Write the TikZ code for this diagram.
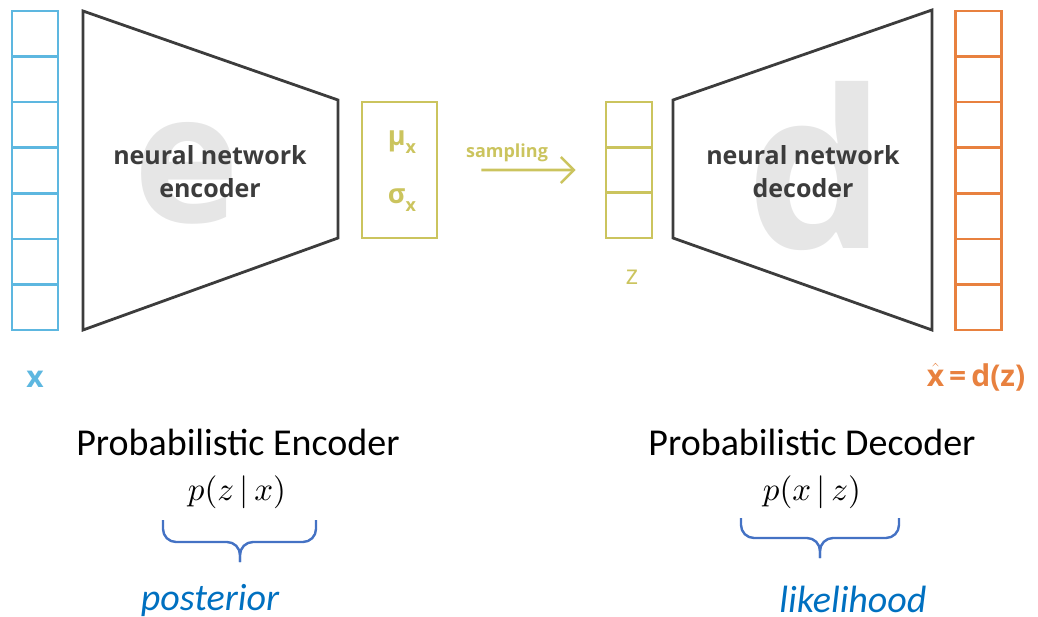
\documentclass[tikz,border=0pt]{standalone}
\usepackage{fontspec}
\setmainfont{Carlito}
\newfontfamily\osans{Open Sans}
\usepackage{xcolor}
\usetikzlibrary{arrows.meta,positioning}
\definecolor{inblue}{HTML}{5DB7E0}
\definecolor{latyel}{HTML}{CBC45E}
\definecolor{outorg}{HTML}{E8813F}
\definecolor{netgray}{HTML}{3C3C3C}
\definecolor{markgray}{HTML}{E6E6E6}
\definecolor{brcblue}{HTML}{4472C4}
\definecolor{capblue}{HTML}{0070C0}
\tikzset{
  incell/.style={draw=inblue, line width=2.6pt, minimum width=46pt, minimum height=45.57pt, inner sep=0pt},
  outcell/.style={draw=outorg, line width=2.6pt, minimum width=46pt, minimum height=45.57pt, inner sep=0pt},
  zcell/.style={draw=latyel, line width=2.6pt, minimum width=46pt, minimum height=45.33pt, inner sep=0pt},
  latbox/.style={draw=latyel, line width=2.6pt, minimum width=75pt, minimum height=136pt, inner sep=0pt},
  netline/.style={draw=netgray, line width=2.8pt, line join=miter},
  netlbl/.style={text=netgray, align=center, font={\osans\bfseries\fontsize{25}{33}\selectfont}},
  bigmark/.style={text=markgray, inner sep=0pt, font={\osans\bfseries\fontsize{220}{220}\selectfont}},
  latlbl/.style={text=latyel, inner sep=0pt, font={\osans\bfseries\fontsize{27}{27}\selectfont}},
  sampl/.style={-{Straight Barb[length=13pt, width=26pt, line width=2.6pt]}, line width=2.6pt, latyel},
  vlbl/.style={inner sep=0pt, anchor=base, font={\osans\bfseries\fontsize{30}{30}\selectfont}},
  captxt/.style={inner sep=0pt, anchor=base, font={\fontsize{38}{42}\selectfont}},
  capmath/.style={inner sep=0pt, anchor=base},
  capital/.style={inner sep=0pt, anchor=base, text=capblue, font={\itshape\fontsize{38}{42}\selectfont}},
  brc/.style={draw=brcblue, line width=2.4pt, rounded corners=13pt},
}
\newcommand{\sbx}[1]{\raisebox{-8pt}{\fontsize{18}{18}\selectfont #1}}
\newcommand{\capm}[1]{\scalebox{3.3}{$#1$}}

\begin{document}
\begin{tikzpicture}[x=1pt, y=-1pt]
\useasboundingbox (0,0) rectangle (1038,616);
% watermarks
\node[bigmark, font={\osans\bfseries\fontsize{180}{180}\selectfont}] (emark) at (187,173) {e};
\node[bigmark] (dmark) at (816,166) {d};
% input and output vectors
\foreach \i in {0,...,6} {
  \node[incell] (x\i) at (35,{33.8+\i*45.57}) {};
  \node[outcell] (o\i) at (978.5,{33.8+\i*45.57}) {};
}
\node[vlbl, text=inblue] (xlbl) at (35,387) {x};
\node[vlbl, text=outorg] (olbl) at (976,386) {$\hat{\mbox{x}}$\,=\,d(z)};
% encoder / decoder
\draw[netline] (83,11) -- (338,100) -- (338,238) -- (83,330) -- cycle;
\draw[netline] (673,100) -- (932,10) -- (932,330) -- (673,238) -- cycle;
\node[netlbl] (enclbl) at (210,172) {neural network\\encoder};
\node[netlbl] (declbl) at (803,172) {neural network\\decoder};
% latent
\node[latbox] (musig) at (399.5,170) {};
\node[latlbl] (mu) at (402,142) {μ\sbx{x}};
\node[latlbl] (sig) at (402,200) {σ\sbx{x}};
\foreach \i in {0,1,2}
  \node[zcell] (z\i) at (629,{124.7+\i*45.33}) {};
\node[inner sep=0pt, anchor=base, text=latyel, font={\osans\fontsize{27}{27}\selectfont}] (zlbl) at (632,284) {z};
\draw[sampl, shorten <=43pt, shorten >=29pt] (musig) -- (z1);
\node[inner sep=0pt, anchor=base, text=latyel, font={\osans\bfseries\fontsize{18}{18}\selectfont}] (samplbl) at (507,157) {sampling};
% captions
\node[captxt] (enccap) at (238,455) {Probabilistic Encoder};
\node[capmath] (encp) at (237,500) {\capm{p(z\,|\,x)}};
\draw[brc] (163,520) |- (240,542) -- (240,562);
\draw[brc] (316,520) |- (240,542) -- (240,562);
\node[capital] (post) at (210,610) {posterior};
\node[captxt] (deccap) at (812,455) {Probabilistic Decoder};
\node[capmath] (decp) at (812,500) {\capm{p(x\,|\,z)}};
\draw[brc] (741,518) |- (820,538) -- (820,558);
\draw[brc] (899,518) |- (820,538) -- (820,558);
\node[capital] (lik) at (853,612) {likelihood};
\end{tikzpicture}
\end{document}
